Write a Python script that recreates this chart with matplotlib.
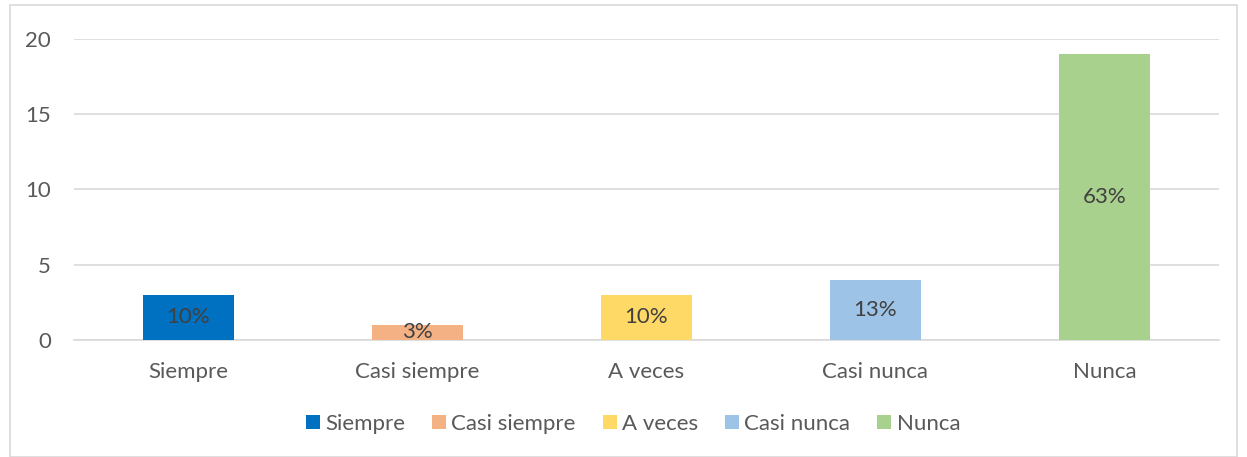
import matplotlib
matplotlib.use('Agg')
import matplotlib.pyplot as plt
from matplotlib.patches import Rectangle

# Data
categories = ['Siempre', 'Casi siempre', 'A veces', 'Casi nunca', 'Nunca']
counts = [3, 1, 3, 4, 19]
pct_labels = ['10%', '3%', '10%', '13%', '63%']
colors = ['#0070C0', '#F4B183', '#FFD966', '#9DC3E6', '#A9D18E']

plt.rcParams['font.family'] = ['Lato', 'DejaVu Sans']

W, H = 1247, 457
fig = plt.figure(figsize=(W / 100, H / 100), dpi=100)
ax = fig.add_axes([74 / W, (H - 340) / H, (1219 - 74) / W, (340 - 39) / H])

# outer chart frame
fig.patches.append(Rectangle((10 / W, 0), (1237 - 10) / W, (H - 5) / H,
                             transform=fig.transFigure, fill=False,
                             edgecolor='#d9d9d9', linewidth=1.2))

x = list(range(len(categories)))
for i, (cat, val, lab, col) in enumerate(zip(categories, counts, pct_labels, colors)):
    bars = ax.bar(i, val, width=0.4, color=col, label=cat, zorder=3)
    ax.bar_label(bars, labels=[lab], label_type='center', color='#404040',
                 fontsize=16, zorder=4)

ax.set_xlim(-0.5, len(categories) - 0.5)
ax.set_ylim(0, 20)
ax.set_yticks([0, 5, 10, 15, 20])
ax.set_xticks(x)
ax.set_xticklabels(categories)
ax.tick_params(axis='both', length=0, labelsize=16, labelcolor='#595959')
ax.tick_params(axis='x', pad=16)
ax.tick_params(axis='y', pad=16.5)
ax.grid(axis='y', color='#d9d9d9', linewidth=1.2, zorder=0)
for s in ['top', 'right', 'left']:
    ax.spines[s].set_visible(False)
ax.spines['bottom'].set_color('#d9d9d9')
ax.spines['bottom'].set_linewidth(1.2)

fig.legend(loc='center', bbox_to_anchor=(633 / W, (H - 424) / H), ncol=5,
           frameon=False, fontsize=16, labelcolor='#595959',
           handlelength=0.63, handleheight=0.63, handletextpad=0.25,
           columnspacing=1.2)

fig.savefig('out.png', dpi=100)
